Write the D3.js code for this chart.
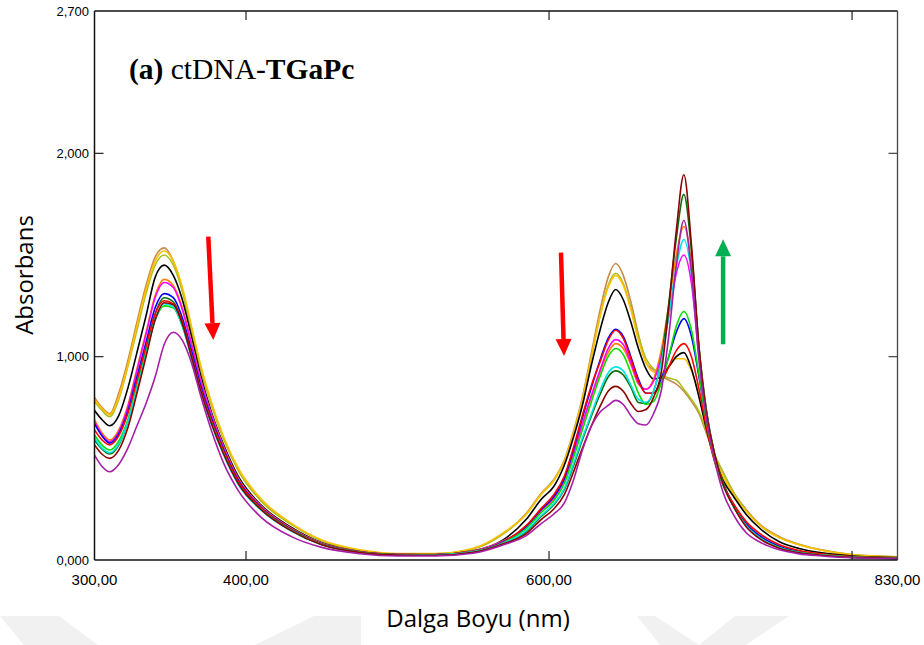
<!DOCTYPE html>
<html><head><meta charset="utf-8">
<script src="https://cdn.jsdelivr.net/npm/d3@7"></script>
<style>body{margin:0;background:#fff;} svg{display:block;}</style>
</head><body>
<svg id="chart" width="924" height="645"></svg>
<script>
// ---------- data ----------
const wavelengths = [300,305,310,316,322,328,334,340,346,352,358,364,370,377,385,395,410,430,450,475,500,525,550,570,
  585,595,603,610,616,622,628,634,639,644,649,654,659,664,669,674,679,684,689,694,699,704,709,715,722,730,740,752,765,780,800,830];

const tan = [0.80,0.75,0.72,0.82,0.98,1.17,1.35,1.49,1.535,1.47,1.33,1.14,0.95,0.77,0.60,0.44,0.29,0.175,0.095,0.048,0.03,0.03,0.055,0.13,
  0.23,0.33,0.395,0.49,0.63,0.80,1.02,1.24,1.39,1.458,1.40,1.27,1.11,0.97,0.935,0.905,0.885,0.865,0.83,0.78,0.72,0.62,0.52,0.43,0.33,0.25,0.17,0.115,0.078,0.05,0.027,0.016];
const yellowGreen = [0.78,0.735,0.705,0.79,0.95,1.13,1.31,1.45,1.50,1.45,1.32,1.13,0.94,0.765,0.60,0.44,0.29,0.175,0.095,0.048,0.03,0.03,0.055,0.13,
  0.225,0.325,0.39,0.485,0.62,0.79,1.00,1.21,1.35,1.41,1.36,1.24,1.10,0.99,0.94,0.91,0.895,0.885,0.84,0.79,0.73,0.63,0.525,0.43,0.33,0.245,0.165,0.11,0.075,0.048,0.026,0.016];
const gold = [0.79,0.745,0.715,0.80,0.96,1.15,1.33,1.47,1.52,1.47,1.34,1.15,0.96,0.78,0.61,0.45,0.30,0.18,0.098,0.05,0.032,0.032,0.058,0.135,
  0.225,0.325,0.39,0.485,0.62,0.79,1.00,1.21,1.34,1.40,1.35,1.23,1.08,0.97,0.925,0.92,0.95,0.99,0.99,0.93,0.81,0.64,0.51,0.41,0.32,0.24,0.165,0.11,0.075,0.048,0.026,0.015];
const black = [0.735,0.69,0.66,0.71,0.845,1.02,1.20,1.39,1.45,1.40,1.28,1.10,0.91,0.73,0.57,0.41,0.27,0.16,0.085,0.042,0.028,0.027,0.045,0.10,
  0.20,0.30,0.36,0.465,0.60,0.76,0.96,1.14,1.265,1.33,1.28,1.17,1.04,0.94,0.89,0.90,0.95,1.00,1.02,0.94,0.80,0.64,0.50,0.39,0.31,0.225,0.15,0.09,0.057,0.035,0.02,0.012];
const orange = [0.69,0.625,0.59,0.64,0.76,0.94,1.12,1.30,1.38,1.35,1.24,1.07,0.89,0.72,0.56,0.40,0.265,0.155,0.082,0.04,0.027,0.026,0.044,0.095,
  0.16,0.24,0.30,0.385,0.51,0.66,0.80,0.93,1.02,1.064,1.04,0.96,0.865,0.84,0.89,1.03,1.25,1.50,1.64,1.46,1.04,0.73,0.53,0.375,0.265,0.175,0.11,0.065,0.04,0.026,0.015,0.009];
const magenta = [0.68,0.615,0.582,0.63,0.75,0.93,1.11,1.29,1.365,1.34,1.23,1.06,0.885,0.715,0.555,0.395,0.262,0.152,0.08,0.04,0.027,0.026,0.043,0.093,
  0.16,0.245,0.305,0.39,0.52,0.67,0.81,0.94,1.04,1.084,1.06,0.97,0.87,0.84,0.88,1.00,1.20,1.41,1.50,1.36,1.00,0.72,0.52,0.37,0.265,0.175,0.11,0.065,0.04,0.026,0.015,0.009];
const blue = [0.67,0.61,0.575,0.62,0.73,0.90,1.07,1.24,1.31,1.29,1.19,1.03,0.86,0.70,0.545,0.39,0.258,0.15,0.079,0.039,0.026,0.025,0.042,0.09,
  0.165,0.25,0.31,0.40,0.54,0.70,0.85,0.99,1.09,1.135,1.10,1.00,0.89,0.82,0.82,0.89,1.00,1.12,1.187,1.10,0.90,0.68,0.50,0.37,0.27,0.18,0.115,0.068,0.042,0.027,0.015,0.009];
const darkGreen = [0.59,0.545,0.521,0.565,0.68,0.85,1.03,1.21,1.29,1.27,1.17,1.01,0.84,0.68,0.53,0.38,0.25,0.145,0.076,0.038,0.025,0.024,0.04,0.083,
  0.14,0.215,0.27,0.345,0.46,0.59,0.71,0.82,0.90,0.93,0.91,0.85,0.775,0.77,0.83,0.98,1.26,1.58,1.798,1.52,1.05,0.73,0.53,0.38,0.265,0.17,0.105,0.06,0.037,0.024,0.013,0.008];
const red = [0.64,0.59,0.566,0.61,0.72,0.88,1.05,1.21,1.275,1.26,1.17,1.01,0.845,0.69,0.54,0.385,0.255,0.148,0.078,0.039,0.026,0.025,0.042,0.088,
  0.17,0.255,0.32,0.41,0.55,0.71,0.86,0.98,1.08,1.13,1.09,0.99,0.88,0.82,0.82,0.87,0.95,1.03,1.064,1.00,0.84,0.65,0.49,0.37,0.275,0.19,0.125,0.075,0.047,0.03,0.017,0.01];
const green = [0.615,0.565,0.541,0.585,0.69,0.85,1.02,1.18,1.25,1.24,1.15,1.00,0.835,0.68,0.53,0.375,0.25,0.145,0.076,0.038,0.025,0.024,0.04,0.085,
  0.155,0.235,0.29,0.375,0.50,0.64,0.78,0.91,1.00,1.04,1.01,0.92,0.82,0.765,0.78,0.87,1.00,1.15,1.222,1.13,0.91,0.68,0.50,0.365,0.26,0.17,0.105,0.062,0.038,0.025,0.014,0.009];
const cyan = [0.60,0.55,0.528,0.57,0.68,0.84,1.01,1.18,1.26,1.245,1.15,0.995,0.83,0.67,0.52,0.37,0.245,0.142,0.075,0.037,0.025,0.024,0.04,0.083,
  0.145,0.22,0.275,0.35,0.47,0.60,0.72,0.84,0.92,0.95,0.93,0.86,0.79,0.775,0.83,0.97,1.20,1.44,1.576,1.41,1.01,0.72,0.52,0.37,0.26,0.17,0.105,0.06,0.037,0.024,0.013,0.008];
const maroon = [0.566,0.52,0.50,0.54,0.65,0.82,1.00,1.18,1.265,1.255,1.16,1.00,0.835,0.675,0.525,0.375,0.248,0.143,0.075,0.037,0.024,0.023,0.038,0.08,
  0.13,0.20,0.25,0.32,0.43,0.55,0.66,0.76,0.83,0.854,0.83,0.77,0.73,0.74,0.80,0.92,1.24,1.62,1.895,1.55,1.04,0.72,0.53,0.37,0.26,0.165,0.10,0.058,0.035,0.023,0.013,0.008];
const purple = [0.516,0.46,0.434,0.47,0.55,0.66,0.77,0.90,1.06,1.12,1.08,0.97,0.81,0.64,0.48,0.34,0.21,0.115,0.062,0.031,0.02,0.02,0.033,0.075,
  0.12,0.18,0.225,0.28,0.39,0.54,0.66,0.73,0.76,0.785,0.765,0.71,0.67,0.664,0.72,0.83,1.10,1.45,1.67,1.42,0.98,0.69,0.50,0.33,0.22,0.135,0.085,0.05,0.03,0.02,0.011,0.007];

const seriesData = [tan, yellowGreen, gold, black, orange, magenta, blue, darkGreen, red, green, cyan, maroon, purple];
const seriesColors = ['#c98a4b','#a8c11c','#ffc000','#000000','#ff8000','#ff00ff','#0000ff','#0a6e0a','#ff0000','#00e000','#00e5e5','#8b0000','#a61fa6'];

const xTickValues = [400, 600, 800];
const xLabelValues = [300, 400, 600, 830];
const yTickValues = [1, 2];
const yLabelValues = [0, 1, 2, 2.7];

// annotation arrows (data coordinates: wavelength, absorbance)
const arrows = [
  {x1: 375.1, y1: 1.59, x2: 378.4, y2: 1.082, color: '#ff0000'},
  {x1: 607.9, y1: 1.512, x2: 609.9, y2: 1.003, color: '#ff0000'},
  {x1: 714.9, y1: 1.061, x2: 714.9, y2: 1.577, color: '#00b050'}
];

// ---------- drawing ----------
const svg = d3.select('#chart');
const pLeft = 94.5, pRight = 897.5, pTop = 11, pBottom = 560;
const x = d3.scaleLinear().domain([300, 830]).range([pLeft, pRight]);
const y = d3.scaleLinear().domain([0, 2.7]).range([pBottom, pTop]);
const locale = d3.formatLocale({decimal: ',', thousands: '.', grouping: [3], currency: ['', '']});
const fx = locale.format('.2f');
const fy = locale.format('.3f');

// faint background watermark
const wm = svg.append('g').attr('fill', '#f1f1f1');
[[[0,616],[59,616],[98,645],[24,645]],
 [[314,616],[361,616],[361,645],[255,645]],
 [[637,616],[655,616],[699,645],[660,645]],
 [[735,616],[789,616],[746,645],[699,645]]].forEach(p => wm.append('polygon').attr('points', p.map(d => d.join(',')).join(' ')));
svg.append('rect').attr('x', 361).attr('y', 588).attr('width', 276).attr('height', 57).attr('fill', '#fff');

// curves
const line = d3.line().x((d, i) => x(wavelengths[i])).y(d => y(d)).curve(d3.curveMonotoneX);
svg.append('clipPath').attr('id', 'clip').append('rect')
  .attr('x', pLeft).attr('y', pTop).attr('width', pRight - pLeft).attr('height', pBottom - pTop);
const curves = svg.append('g').attr('clip-path', 'url(#clip)');
seriesData.forEach((vals, k) => {
  curves.append('path').attr('d', line(vals)).attr('fill', 'none')
    .attr('stroke', seriesColors[k]).attr('stroke-width', 1.6).attr('stroke-linejoin', 'round');
});

// frame
const frame = svg.append('g').attr('fill', 'none');
frame.append('line').attr('x1', pLeft).attr('x2', pRight).attr('y1', pTop).attr('y2', pTop).attr('stroke', '#111').attr('stroke-width', 1.3);
frame.append('line').attr('x1', pRight).attr('x2', pRight).attr('y1', pTop).attr('y2', pBottom).attr('stroke', '#444').attr('stroke-width', 1.3);
frame.append('line').attr('x1', pLeft).attr('x2', pLeft).attr('y1', pTop).attr('y2', pBottom).attr('stroke', '#111').attr('stroke-width', 1.5);
frame.append('line').attr('x1', pLeft).attr('x2', pRight).attr('y1', pBottom).attr('y2', pBottom).attr('stroke', '#111').attr('stroke-width', 1.5);

// ticks
xTickValues.forEach(v => {
  frame.append('line').attr('x1', x(v)).attr('x2', x(v)).attr('y1', pBottom).attr('y2', pBottom - 9).attr('stroke', '#222').attr('stroke-width', 1.2);
  frame.append('line').attr('x1', x(v)).attr('x2', x(v)).attr('y1', pTop).attr('y2', pTop + 9).attr('stroke', '#222').attr('stroke-width', 1.2);
});
yTickValues.forEach(v => {
  frame.append('line').attr('x1', pLeft).attr('x2', pLeft + 9).attr('y1', y(v)).attr('y2', y(v)).attr('stroke', '#222').attr('stroke-width', 1.2);
  frame.append('line').attr('x1', pRight - 9).attr('x2', pRight).attr('y1', y(v)).attr('y2', y(v)).attr('stroke', '#444').attr('stroke-width', 1.2);
});

// tick labels
svg.append('g').selectAll('text').data(xLabelValues).join('text')
  .attr('x', d => x(d)).attr('y', 585).attr('text-anchor', 'middle')
  .attr('font-family', '"Liberation Sans Narrow", "Arial Narrow", "Liberation Sans", Arial, sans-serif')
  .attr('font-size', 15).attr('fill', '#000').text(d => fx(d));
svg.append('g').selectAll('text').data(yLabelValues).join('text')
  .attr('x', 89).attr('y', d => y(d)).attr('dy', '0.35em').attr('text-anchor', 'end')
  .attr('font-family', '"Liberation Sans", Arial, sans-serif')
  .attr('font-size', 13).attr('fill', '#000').text(d => fy(d));

// axis titles
svg.append('text').attr('transform', 'translate(33,275) rotate(-90)').attr('text-anchor', 'middle')
  .attr('font-family', '"Open Sans", "Noto Sans", sans-serif').attr('font-size', 24).attr('fill', '#000').text('Absorbans');
svg.append('text').attr('x', 478).attr('y', 627).attr('text-anchor', 'middle')
  .attr('font-family', '"Open Sans", "Noto Sans", sans-serif').attr('font-size', 24).attr('fill', '#000').text('Dalga Boyu (nm)');

// panel title
const title = svg.append('text').attr('x', 129).attr('y', 79)
  .attr('font-family', '"Liberation Serif", "Times New Roman", serif').attr('font-size', 29.5).attr('fill', '#000');
title.append('tspan').attr('font-weight', 'bold').text('(a)');
title.append('tspan').text(' ctDNA-');
title.append('tspan').attr('font-weight', 'bold').text('TGaPc');

// arrows
arrows.forEach(a => {
  const X1 = x(a.x1), Y1 = y(a.y1), X2 = x(a.x2), Y2 = y(a.y2);
  const dx = X2 - X1, dy = Y2 - Y1, L = Math.hypot(dx, dy);
  const ux = dx / L, uy = dy / L, px = -uy, py = ux;
  const hl = 17, hw = 8;
  const bx = X2 - ux * hl, by = Y2 - uy * hl;
  svg.append('line').attr('x1', X1).attr('y1', Y1).attr('x2', bx).attr('y2', by)
    .attr('stroke', a.color).attr('stroke-width', 4.5);
  svg.append('polygon').attr('fill', a.color)
    .attr('points', [[X2, Y2], [bx + px * hw, by + py * hw], [bx - px * hw, by - py * hw]].map(p => p.join(',')).join(' '));
});
</script>
</body></html>
